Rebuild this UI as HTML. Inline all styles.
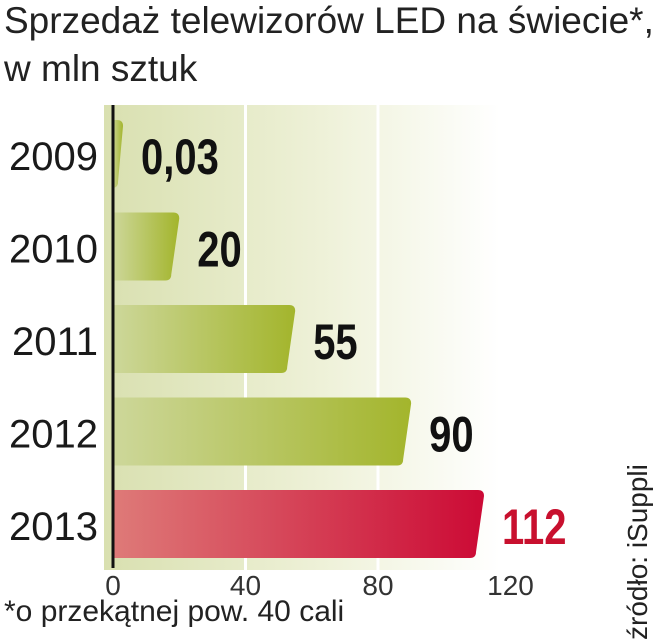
<!DOCTYPE html>
<html><head><meta charset="utf-8"><style>
body{margin:0;width:656px;height:640px;background:#fff;overflow:hidden;font-family:"Liberation Sans",sans-serif}
.t{position:absolute;left:4px;font-size:37px;color:#222;letter-spacing:0px;white-space:nowrap;transform-origin:0 0;transform:scaleX(1.0)}
</style></head><body>
<div class="t" style="top:0px">Sprzedaż telewizorów LED na świecie*,</div>
<div class="t" style="top:48px">w mln sztuk</div>
<svg id="c" width="656" height="640" style="position:absolute;left:0;top:0">
<defs>
<linearGradient id="bg" x1="0" x2="1"><stop offset="0" stop-color="#d9e0b0"/><stop offset="0.55" stop-color="#eef1d8"/><stop offset="1" stop-color="#fff"/></linearGradient>
<linearGradient id="gg" x1="0" x2="1"><stop offset="0" stop-color="#cdd79a"/><stop offset="1" stop-color="#a3b52c"/></linearGradient>
<linearGradient id="rg" x1="0" x2="1"><stop offset="0" stop-color="#de7a78"/><stop offset="1" stop-color="#cc0a35"/></linearGradient>
</defs>
</svg>
<div style="position:absolute;left:4px;top:595px;font-size:30px;color:#222;white-space:nowrap">*o przekątnej pow. 40 cali</div>
<div style="position:absolute;left:622px;top:640px;transform-origin:0 0;transform:rotate(-90deg);font-size:28px;line-height:32px;color:#222;white-space:nowrap">źródło: iSuppli</div>
<script>
const years=["2009","2010","2011","2012","2013"];
const values=[0.03,20,55,90,112];
const labels=["0,03","20","55","90","112"];
const ticks=[0,40,80,120];
const svg=document.getElementById('c');const NS="http://www.w3.org/2000/svg";
const x=v=>113+v*(378-113)/80;
const rowTop=i=>120+i*92.5;
function mk(t,a){const e=document.createElementNS(NS,t);for(const k in a)e.setAttribute(k,a[k]);svg.appendChild(e);return e;}
let b=mk('rect',{x:104,y:105,width:396,height:465,fill:'url(#bg)'});


ticks.forEach(t=>{
 if(t>0&&t<120){const g=mk('line',{x1:x(t),x2:x(t),y1:105,y2:570,stroke:'#fff','stroke-width':3});
 
 }
 const tl=mk('text',{x:x(t),y:595,'text-anchor':'middle','font-size':28,fill:'#333','font-family':'Liberation Sans'});tl.textContent=t;
 
 
});
values.forEach((v,i)=>{
 const y0=rowTop(i),h=68,x0=113,last=i===4;
 const xe=Math.max(x(v),x0+10);
 const r=6,s=Math.min(8,(xe-x0)/2);
 const d=`M${x0},${y0}H${xe-r}Q${xe},${y0} ${xe},${y0+r}L${xe-s},${y0+h-r}Q${xe-s},${y0+h} ${xe-s-r},${y0+h}H${x0}Z`;
 const p=mk('path',{d:d,fill:last?'url(#rg)':'url(#gg)'});
 
 
 const yl=mk('text',{x:98,y:y0+50,'text-anchor':'end','font-size':40,fill:'#1a1a1a','font-family':'Liberation Sans'});yl.textContent=years[i];
 
 
 const lx=xe+18;
 const vl=mk('text',{x:0,y:0,'font-size':50,'font-weight':'bold',fill:last?'#c8102e':'#111','font-family':'Liberation Sans',transform:`translate(${lx},${y0+54}) scale(0.8,1)`});vl.textContent=labels[i];
 
 
});
const ax=mk('line',{x1:113,x2:113,y1:105,y2:568,stroke:'#111','stroke-width':3});


</script>
</body></html>
